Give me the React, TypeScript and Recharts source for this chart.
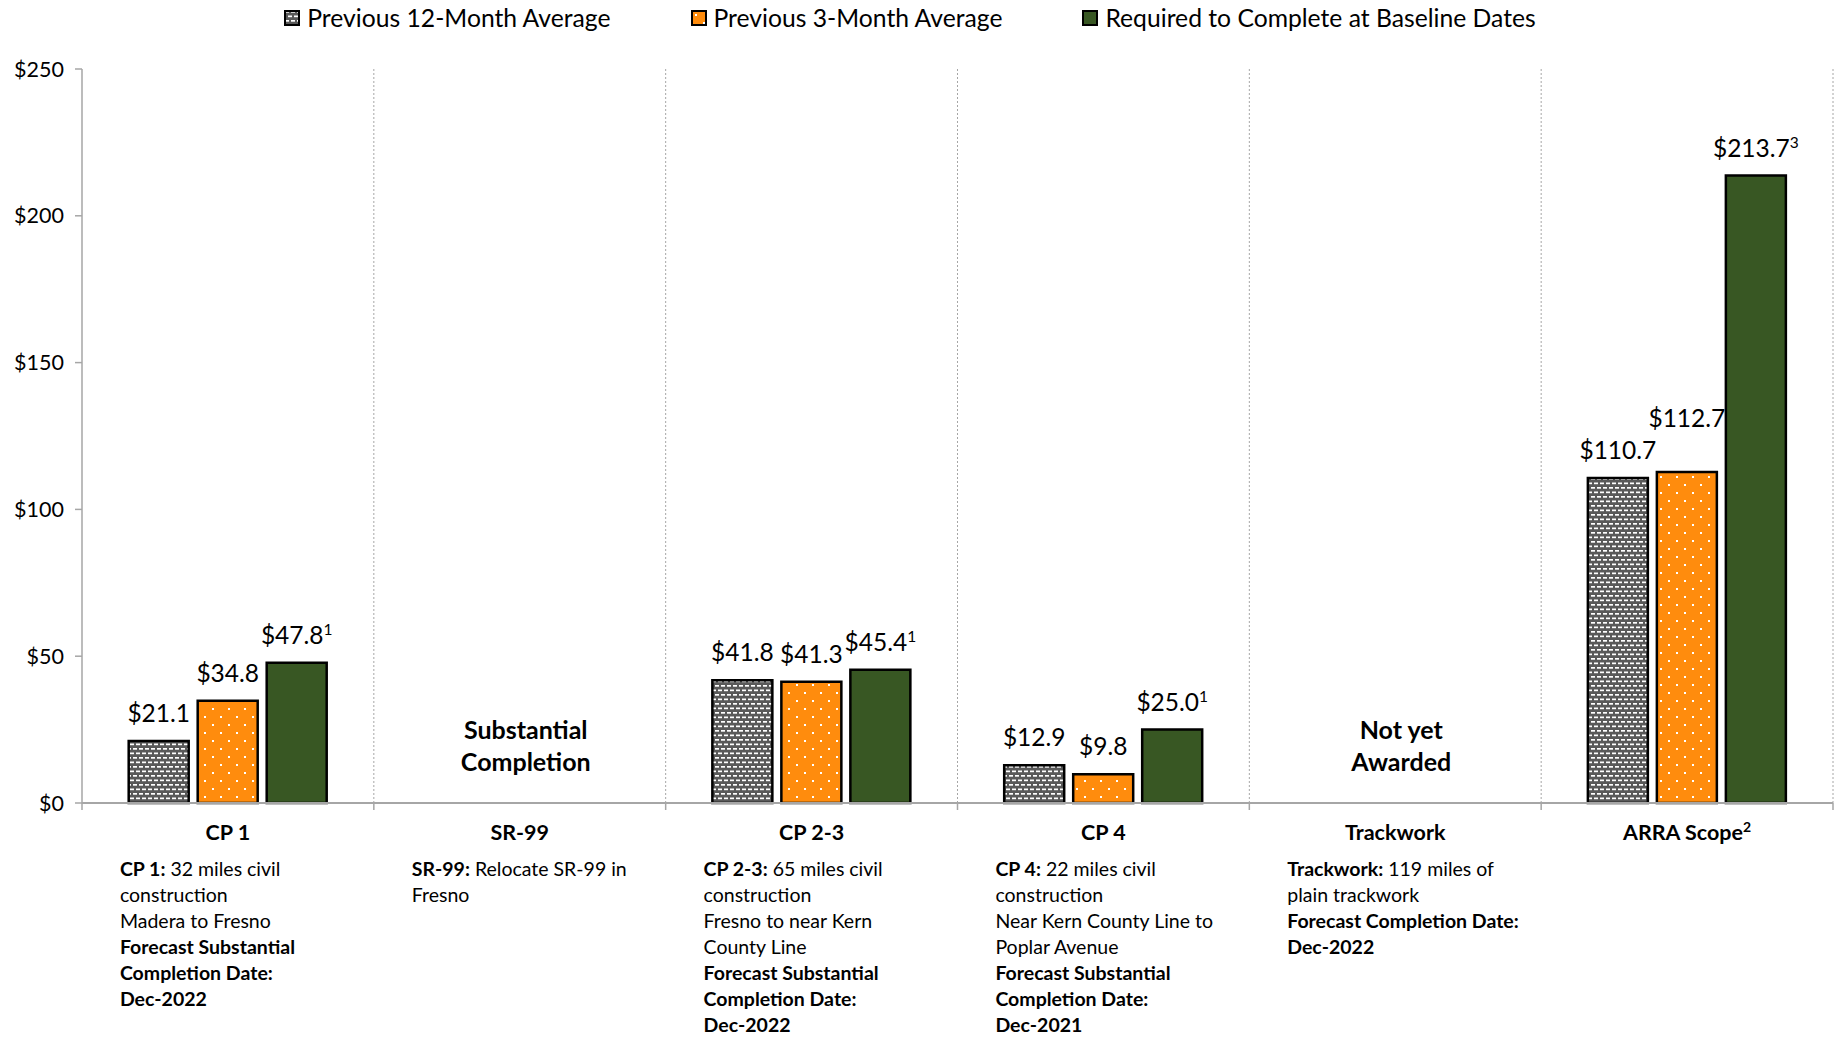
import React from 'react';
import { ComposedChart, Bar, XAxis, YAxis, CartesianGrid, Legend, LabelList } from 'recharts';

// ---- data ----
const categories = ['CP 1', 'SR-99', 'CP 2-3', 'CP 4', 'Trackwork', 'ARRA Scope'];
const categoryNotes = ['', '', '', '', '', '2'];
const avg12 = [21.1, null, 41.8, 12.9, null, 110.7];
const avg3 = [34.8, null, 41.3, 9.8, null, 112.7];
const required = [47.8, null, 45.4, 25.0, null, 213.7];
const requiredNotes = ['1', '', '1', '1', '', '3'];
const statusText = [[], ['Substantial', 'Completion'], [], [], ['Not yet', 'Awarded'], []];
const descriptions = [
  ['**CP 1:** 32 miles civil', 'construction', 'Madera to Fresno', '**Forecast Substantial**', '**Completion Date:**', '**Dec-2022**'],
  ['**SR-99:** Relocate SR-99 in', 'Fresno'],
  ['**CP 2-3:** 65 miles civil', 'construction', 'Fresno to near Kern', 'County Line', '**Forecast Substantial**', '**Completion Date:**', '**Dec-2022**'],
  ['**CP 4:** 22 miles civil', 'construction', 'Near Kern County Line to', 'Poplar Avenue', '**Forecast Substantial**', '**Completion Date:**', '**Dec-2021**'],
  ['**Trackwork:** 119 miles of', 'plain trackwork', '**Forecast Completion Date:**', '**Dec-2022**'],
  [],
];
const yTicks = [0, 50, 100, 150, 200, 250];
const seriesNames = ['Previous 12-Month Average', 'Previous 3-Month Average', 'Required to Complete at Baseline Dates'];

const data = categories.map((name, i) => ({
  name,
  avg12: avg12[i],
  avg3: avg3[i],
  required: required[i],
}));

// ---- layout / style ----
const W = 1840;
const H = 1043;
const Y_AXIS_W = 82;
const RIGHT = 7;
const X_AXIS_H = 240;
const LEGEND_H = 69;
const BAND = (W - Y_AXIS_W - RIGHT) / categories.length;
const BAR_GAP = 9;
const FONT = 'Lato, "Noto Sans", sans-serif';
const LABEL_FS = 24.5;
const GRID = '#a6a6a6';
const ORANGE = '#ff8c0d';
const GREEN = '#385723';
const DARK = '#595959';

const fills = ['url(#pat12)', 'url(#pat3)', GREEN];

function Patterns({ prefix = '' }: { prefix?: string }) {
  return (
    <defs>
      <pattern id={`${prefix}pat12`} width="6" height="9" patternUnits="userSpaceOnUse">
        <rect width="6" height="9" fill={DARK} />
        <rect x="1" y="1" width="4" height="1.7" fill="#fff" />
        <rect x="4" y="5.5" width="2" height="1.7" fill="#fff" />
        <rect x="0" y="5.5" width="2" height="1.7" fill="#fff" />
      </pattern>
      <pattern id={`${prefix}pat3`} width="16" height="16" patternUnits="userSpaceOnUse">
        <rect width="16" height="16" fill={ORANGE} />
        <rect x="4" y="4" width="2" height="2" fill="#fff" />
        <rect x="12" y="12" width="2" height="2" fill="#fff" />
      </pattern>
    </defs>
  );
}

function richLine(line: string) {
  return line.split('**').map((part, k) => (
    <tspan key={k} fontWeight={k % 2 === 1 ? 700 : 400}>{part}</tspan>
  ));
}

function LegendContent() {
  return (
    <div
      style={{
        height: LEGEND_H,
        width: W,
        boxSizing: 'border-box',
        display: 'flex',
        justifyContent: 'center',
        alignItems: 'flex-start',
        gap: 80,
        paddingRight: 20,
        paddingTop: 4,
        fontFamily: FONT,
        fontSize: 24.7,
        lineHeight: '28px',
        color: '#000',
      }}
    >
      {seriesNames.map((name, i) => (
        <div key={name} style={{ display: 'flex', alignItems: 'center' }}>
          <svg width="16" height="16" style={{ marginRight: 7 }}>
            <Patterns prefix="lg-" />
            <rect
              x="1"
              y="1"
              width="14"
              height="14"
              fill={i === 2 ? GREEN : `url(#lg-${i === 0 ? 'pat12' : 'pat3'})`}
              stroke="#000"
              strokeWidth="2"
            />
          </svg>
          <span>{name}</span>
        </div>
      ))}
    </div>
  );
}

function makeLabel(series: 'avg12' | 'avg3' | 'required') {
  return (props: any) => {
    const { x, y, width, height, value } = props;
    if (value == null || !height) return null;
    // which category this bar sits in
    const ci = Math.floor((x - Y_AXIS_W) / BAND);
    const text = `$${Number(value).toFixed(1)}`;
    const note = series === 'required' ? requiredNotes[ci] : '';
    let lift = 0;
    if (series === 'avg3') {
      // nudge upward if it would collide with the 12-month label next to it
      const other = avg12[ci];
      if (other != null) {
        const pxPerUnit = height / value;
        const dy = Math.abs((value - other) * pxPerUnit);
        const otherText = `$${other.toFixed(1)}`;
        const need = ((text.length + otherText.length) * 0.5 * LABEL_FS) / 2;
        if (dy < LABEL_FS && need > width + BAR_GAP) lift = LABEL_FS + 1.5;
      }
    }
    return (
      <text
        x={x + width / 2}
        y={y - 19 - lift}
        textAnchor="middle"
        fontFamily={FONT}
        fontSize={LABEL_FS}
        fill="#000"
      >
        {text}
        {note && (
          <tspan dy={-9} fontSize={15.5}>
            {note}
          </tspan>
        )}
      </text>
    );
  };
}

function CategoryTick(props: any) {
  const { x, y, payload } = props;
  const i = payload.index;
  const last = i === categories.length - 1;
  const note = categoryNotes[i];
  return (
    <g fontFamily={FONT} fill="#000">
      <line x1={x - BAND / 2} x2={x - BAND / 2} y1={y} y2={y + 7} stroke={GRID} strokeWidth={1.5} />
      {last && <line x1={x + BAND / 2} x2={x + BAND / 2} y1={y} y2={y + 7} stroke={GRID} strokeWidth={1.5} />}
      <text x={x} y={y + 37} textAnchor="middle" fontSize={21.5} fontWeight={700}>
        {payload.value}
        {note && (
          <tspan dy={-8} fontSize={14}>
            {note}
          </tspan>
        )}
      </text>
      {descriptions[i].map((line, k) => (
        <text key={k} x={x - 108} y={y + 73 + k * 26} fontSize={19.5}>
          {richLine(line)}
        </text>
      ))}
      {statusText[i].map((line, k) => (
        <text key={`s${k}`} x={x + 6} y={y - 64 + k * 32} textAnchor="middle" fontSize={25} fontWeight={700}>
          {line}
        </text>
      ))}
    </g>
  );
}

export default function App() {
  return (
    <div style={{ position: 'absolute', left: 0, top: 0, width: W, height: H, background: '#fff', fontFamily: FONT }}>
      <ComposedChart
        width={W}
        height={H}
        data={data}
        margin={{ top: 0, right: RIGHT, left: 0, bottom: 0 }}
        barCategoryGap="16%"
        barGap={BAR_GAP}
      >
        <Patterns />
        <CartesianGrid
          horizontal={false}
          stroke={GRID}
          strokeDasharray="2 2"
          verticalCoordinatesGenerator={({ offset }: any) =>
            categories.map((_, i) => offset.left + (offset.width * (i + 1)) / categories.length)
          }
        />
        <Legend
          verticalAlign="top"
          align="center"
          content={LegendContent}
          wrapperStyle={{ top: 0, left: 0, width: W, height: LEGEND_H }}
        />
        <XAxis
          dataKey="name"
          height={X_AXIS_H}
          tickSize={0}
          tickMargin={0}
          tickLine={false}
          axisLine={{ stroke: GRID, strokeWidth: 2 }}
          tick={CategoryTick}
          interval={0}
        />
        <YAxis
          width={Y_AXIS_W}
          domain={[0, 250]}
          ticks={yTicks}
          tickSize={7}
          tickMargin={11}
          axisLine={{ stroke: GRID, strokeWidth: 1.5 }}
          tickLine={{ stroke: GRID, strokeWidth: 1.5 }}
          tick={{ fontFamily: FONT, fontSize: 21.5, fill: '#000' }}
          tickFormatter={(v: number) => `$${v}`}
        />
        {(['avg12', 'avg3', 'required'] as const).map((key, i) => (
          <Bar
            key={key}
            dataKey={key}
            name={seriesNames[i]}
            fill={fills[i]}
            stroke="#000"
            strokeWidth={2.5}
            isAnimationActive={false}
          >
            <LabelList dataKey={key} content={makeLabel(key)} />
          </Bar>
        ))}
      </ComposedChart>
    </div>
  );
}
